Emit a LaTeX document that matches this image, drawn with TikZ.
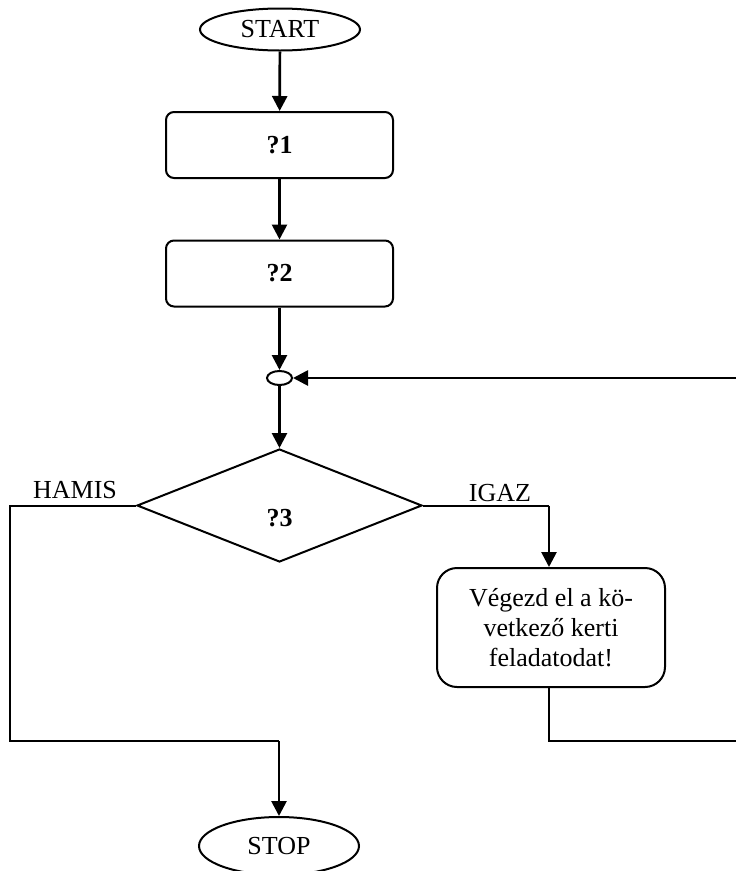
\documentclass[tikz,border=0pt]{standalone}
\usepackage{fontspec}
\setmainfont{Liberation Serif}
\usetikzlibrary{shapes.geometric,arrows.meta}
\begin{document}
\begin{tikzpicture}[x=1pt,y=-1pt,
  txt/.style={font=\fontsize{26}{30}\selectfont,inner sep=0pt},
  term/.style={txt,draw,line width=2pt,ellipse,minimum width=160pt,minimum height=42pt},
  proc/.style={txt,draw,line width=2pt,rounded corners=8pt,minimum width=227pt,minimum height=66pt,font=\fontsize{26}{30}\selectfont\bfseries},
  task/.style={txt,draw,line width=2pt,rounded corners=20pt,minimum width=228pt,minimum height=119pt,align=center},
  junc/.style={draw,line width=2pt,ellipse,minimum width=25pt,minimum height=14pt,inner sep=0pt},
  cond/.style={draw,line width=2pt,diamond,minimum width=285pt,minimum height=113pt,inner sep=0pt},
  conn/.style={line width=2pt},
  arr/.style={line width=2.7pt,-{Triangle[width=15pt,length=15pt]}}
]
\useasboundingbox (0,0) rectangle (736,871);
\node[term] (start) at (280,29.5) {START};
\node[proc] (b1) at (279.5,145) {?1};
\node[proc] (b2) at (279.5,273.5) {?2};
\node[junc] (j) at (279.5,378) {};
\node[cond] (d) at (279.5,505.5) {};
\node[txt,font=\fontsize{26}{30}\selectfont\bfseries] (q3) at (279.5,518) {?3};
\node[task] (t) at (551,627.5) {Végezd el a kö-\\vetkező kerti\\feladatodat!};
\node[term,minimum height=58pt] (stop) at (279,846) {STOP};
\node[txt] (hamis) at (75,490) {HAMIS};
\node[txt] (igaz) at (500,493) {IGAZ};
\coordinate (l1) at (10,505.5);
\coordinate (l2) at (10,741);
\coordinate (l3) at (279,741);
\coordinate (r1) at (549,505.5);
\coordinate (r2) at (549,741);
\coordinate (r3) at (742,741);
\coordinate (r4) at (742,378);
\draw[arr] (start) -- (b1);
\draw[arr] (b1) -- (b2);
\draw[arr] (b2) -- (j);
\draw[arr] (j) -- (d.north);
\draw[conn] (d.west) -- (l1) -- (l2) -- (l3);
\draw[arr] (l3) -- (stop.north);
\draw[conn] (d.east) -- (r1);
\draw[arr] (r1) -- (r1 |- t.north);
\draw[conn] (r1 |- t.south) -- (r2) -- (r3) -- (r4);
\draw[arr] (r4) -- (j.east);
\end{tikzpicture}
\end{document}
